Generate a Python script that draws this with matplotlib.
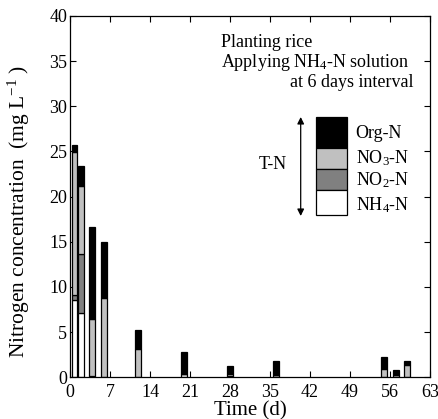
import matplotlib
matplotlib.use("Agg")
import matplotlib.pyplot as plt
import numpy as np
from matplotlib.patches import Rectangle

plt.rcParams['font.family'] = ['Liberation Serif', 'DejaVu Serif']
plt.rcParams['mathtext.fontset'] = 'custom'
plt.rcParams['mathtext.rm'] = 'Liberation Serif'
plt.rcParams['mathtext.it'] = 'Liberation Serif:italic'

days = [0.8, 1.9, 3.9, 5.9, 11.9, 19.9, 28.0, 36.0, 55.0, 57.0, 59.0]
nh4 = [8.6, 7.1, 0.1, 0.05, 0.05, 0.35, 0.15, 0.05, 0.05, 0.05, 0.05]
no2 = [0.5, 6.6, 0.0, 0.0, 0.0, 0.0, 0.0, 0.0, 0.0, 0.0, 0.0]
no3 = [15.8, 7.5, 6.4, 8.7, 3.05, 0.0, 0.2, 0.15, 0.9, 0.2, 1.28]
org = [0.8, 2.2, 10.1, 6.2, 2.14, 2.49, 0.94, 1.64, 1.25, 0.6, 0.44]

x_ticks = [0, 7, 14, 21, 28, 35, 42, 49, 56, 63]
y_ticks = [0, 5, 10, 15, 20, 25, 30, 35, 40]

layers = [("NH$_4$-N", nh4, "white"), ("NO$_2$-N", no2, "#808080"),
          ("NO$_3$-N", no3, "#c0c0c0"), ("Org-N", org, "black")]

fig = plt.figure(figsize=(4.39, 4.19), dpi=100)
ax = fig.add_axes([70/439, 41.7/419, 360/439, 361.3/419])

bottom = np.zeros(len(days))
for name, vals, col in layers:
    v = np.array(vals)
    ax.bar(days, v, width=1.0, bottom=bottom, color=col, edgecolor='black',
           linewidth=0.9, zorder=2)
    bottom += v

ax.set_xlim(0, 63)
ax.set_ylim(0, 40)
ax.set_xticks(x_ticks)
ax.set_yticks(y_ticks)
ax.tick_params(direction='in', top=True, right=True, length=4, width=0.8,
               labelsize=13, pad=2)
ax.tick_params(axis='x', pad=5)
for s in ax.spines.values():
    s.set_linewidth(0.9)

ax.set_xlabel("Time (d)", fontsize=15, labelpad=0)
ax.set_ylabel("Nitrogen concentration  (mg L$^{-1}$ )", fontsize=15.5)
ax.yaxis.set_label_coords(-38/360, 0.46)

fs = 13
def px(x, y):
    inv = ax.transData.inverted()
    return inv.transform((x, 419 - y))

p = px(220.7, 42); ax.text(p[0], p[1], "Planting rice", fontsize=fs, va='center')
p = px(220.7, 62); ax.text(p[0], p[1], "Applying NH$_4$-N solution", fontsize=fs, va='center')
p = px(413.5, 82); ax.text(p[0], p[1], "at 6 days interval", fontsize=fs, va='center', ha='right')

box_edges = [116.7, 148.3, 169.3, 190.0, 215.3]
legend_items = [("Org-N", "black"), ("NO$_3$-N", "#c0c0c0"),
                ("NO$_2$-N", "#808080"), ("NH$_4$-N", "white")]
label_y = [133, 158, 180, 205]
x0, x1 = 315.7, 347.3
for i, (name, col) in enumerate(legend_items):
    a = px(x0, box_edges[i+1]); b = px(x1, box_edges[i])
    ax.add_patch(Rectangle((a[0], a[1]), b[0]-a[0], b[1]-a[1], facecolor=col,
                           edgecolor='black', linewidth=0.9, zorder=3))
    p = px(355.5, label_y[i])
    ax.text(p[0], p[1], name, fontsize=fs, va='center')

a = px(300.7, 117); b = px(300.7, 216)
ax.annotate("", xy=(a[0], a[1]), xytext=(b[0], b[1]),
            arrowprops=dict(arrowstyle='<|-|>', color='black', lw=0.9,
                            mutation_scale=10, shrinkA=0, shrinkB=0))
p = px(287, 164)
ax.text(p[0], p[1], "T-N", fontsize=fs, va='center', ha='right')

fig.savefig("out.png", dpi=100)
